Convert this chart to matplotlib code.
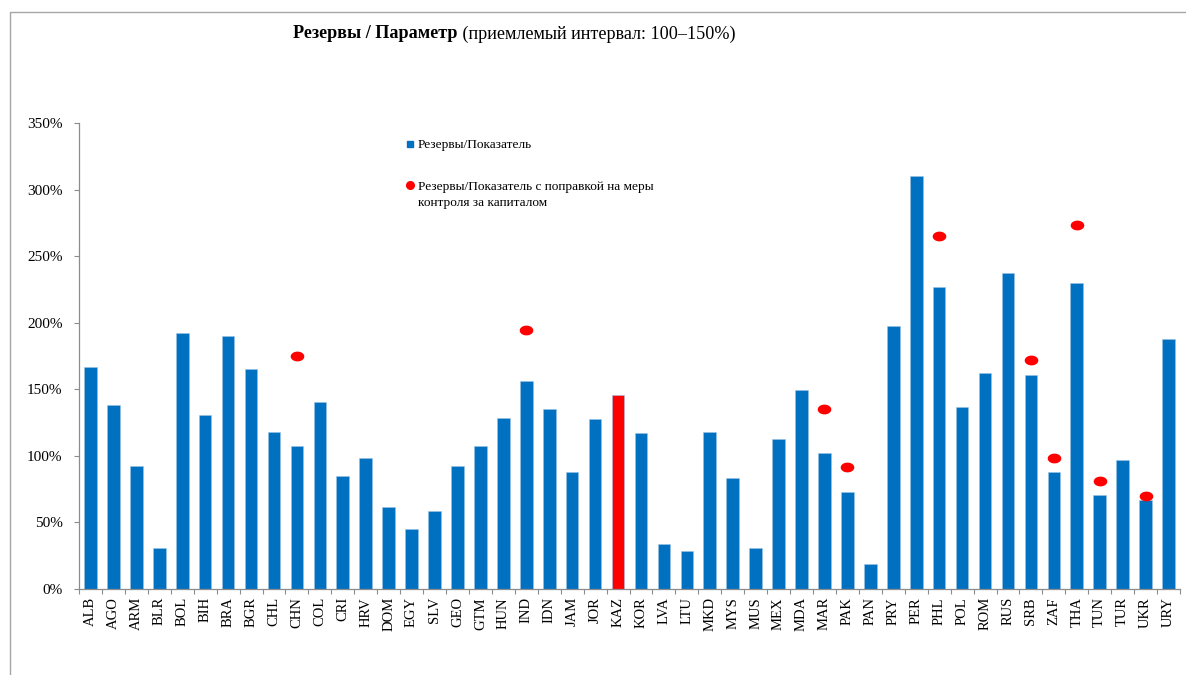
import numpy as np
import matplotlib
matplotlib.use('Agg')
import matplotlib.pyplot as plt
from matplotlib.lines import Line2D
from matplotlib.path import Path
from matplotlib.legend_handler import HandlerLine2D

plt.rcParams['font.family'] = ['Liberation Serif', 'DejaVu Serif']

# data
countries = ['ALB', 'AGO', 'ARM', 'BLR', 'BOL', 'BIH', 'BRA', 'BGR', 'CHL', 'CHN',
             'COL', 'CRI', 'HRV', 'DOM', 'EGY', 'SLV', 'GEO', 'GTM', 'HUN', 'IND',
             'IDN', 'JAM', 'JOR', 'KAZ', 'KOR', 'LVA', 'LTU', 'MKD', 'MYS', 'MUS',
             'MEX', 'MDA', 'MAR', 'PAK', 'PAN', 'PRY', 'PER', 'PHL', 'POL', 'ROM',
             'RUS', 'SRB', 'ZAF', 'THA', 'TUN', 'TUR', 'UKR', 'URY']
ratio = [166.5, 137.9, 92.5, 30.6, 192.0, 130.9, 189.8, 165.5, 117.6, 107.1,
         140.2, 84.8, 98.1, 61.2, 44.9, 58.7, 92.5, 107.3, 128.6, 156.2,
         134.9, 87.5, 127.6, 145.7, 116.9, 33.4, 28.4, 117.6, 83.5, 30.8,
         112.6, 149.4, 102.0, 72.9, 18.3, 197.8, 310.4, 226.9, 136.6, 162.2,
         237.4, 160.5, 88.0, 229.7, 70.2, 96.6, 66.7, 187.8]
# adjusted for capital flow measures
adj_countries = ['CHN', 'IND', 'MAR', 'PAK', 'PHL', 'SRB', 'ZAF', 'THA', 'TUN', 'UKR']
adj_ratio = [174.8, 194.8, 135.1, 91.5, 265.5, 171.8, 98.5, 273.5, 80.8, 69.7]
highlight = 'KAZ'

yticks = [0, 50, 100, 150, 200, 250, 300, 350]

BLUE = '#0070C0'
RED = '#FF0000'

W, H = 1186, 675
fig = plt.figure(figsize=(W / 100, H / 100), dpi=100)
ax = fig.add_axes([79 / W, 1 - 588.7 / H, (1180 - 79) / W, (588.7 - 123.3) / H])

x = np.arange(len(countries))
colors = [RED if c == highlight else BLUE for c in countries]
bars = ax.bar(x, ratio, width=0.55, color=colors, edgecolor='#9CC3E5',
              linewidth=0.4, zorder=2)

# ellipse marker for the adjusted values
t = np.linspace(0, 2 * np.pi, 60)
ell = Path(np.column_stack([np.cos(t), 0.72 * np.sin(t)]), closed=True)
adj_x = [countries.index(c) for c in adj_countries]
dots, = ax.plot(adj_x, adj_ratio, linestyle='none', marker=ell, markersize=9.8,
                color=RED, markeredgewidth=0, zorder=3)

ax.set_xlim(-0.5, len(countries) - 0.5)
ax.set_ylim(0, 350)
ax.set_yticks(yticks)
ax.set_yticklabels(['{}%'.format(v) for v in yticks])
ax.set_xticks(x)
ax.set_xticklabels(countries, rotation=90, fontsize=10.5)
ax.set_xticks(np.arange(len(countries) + 1) - 0.5, minor=True)

for s in ['top', 'right']:
    ax.spines[s].set_visible(False)
for s in ['left', 'bottom']:
    ax.spines[s].set_color('#8C8C8C')
    ax.spines[s].set_linewidth(0.9)
ax.tick_params(axis='y', length=3.8, width=0.8, color='#8C8C8C', pad=8, labelsize=11)
ax.tick_params(axis='x', which='major', length=0, pad=6)
ax.tick_params(axis='x', which='minor', length=3.8, width=0.8, color='#8C8C8C')


class TopHandler(HandlerLine2D):
    # put the marker next to the first line of a two-line label
    def __init__(self, shift, **kw):
        super().__init__(**kw)
        self.shift = shift

    def create_artists(self, legend, orig_handle, xdescent, ydescent, width,
                       height, fontsize, trans):
        arts = super().create_artists(legend, orig_handle, xdescent, ydescent,
                                      width, height, fontsize, trans)
        for a in arts:
            a.set_ydata(np.asarray(a.get_ydata()) + self.shift)
        return arts


h1 = Line2D([], [], linestyle='none', marker='s', markersize=5, color=BLUE)
h2 = Line2D([], [], linestyle='none', marker='o', markersize=5.5, color=RED)
leg = ax.legend([h1, h2],
                ['Резервы/Показатель',
                 'Резервы/Показатель с поправкой на меры\nконтроля за капиталом'],
                loc='upper left', bbox_to_anchor=(407 / W, 1 - 139 / H),
                bbox_transform=fig.transFigure, frameon=False, fontsize=9.6,
                handlelength=0.45, handletextpad=0.35, labelspacing=2.2,
                borderpad=0, borderaxespad=0,
                handler_map={h2: TopHandler(7.0, numpoints=1)})
leg.get_texts()[1].set_linespacing(1.45)

# title: bold part + regular part
t1 = fig.text(293 / W, 1 - 34 / H, 'Резервы / Параметр', fontsize=13.1,
              fontweight='bold', va='center', ha='left')
fig.canvas.draw()
bb = t1.get_window_extent()
fig.text(bb.x1 / W, 1 - 34 / H, ' (приемлемый интервал: 100–150%)',
         fontsize=13.1, va='center', ha='left')

# outer frame (only top and left edges visible)
fig.add_artist(Line2D([9.5 / W, 9.5 / W, 1], [0, 1 - 11.5 / H, 1 - 11.5 / H],
                      transform=fig.transFigure, color='#A6A6A6', linewidth=1.0))

fig.savefig('out.png', dpi=100)
